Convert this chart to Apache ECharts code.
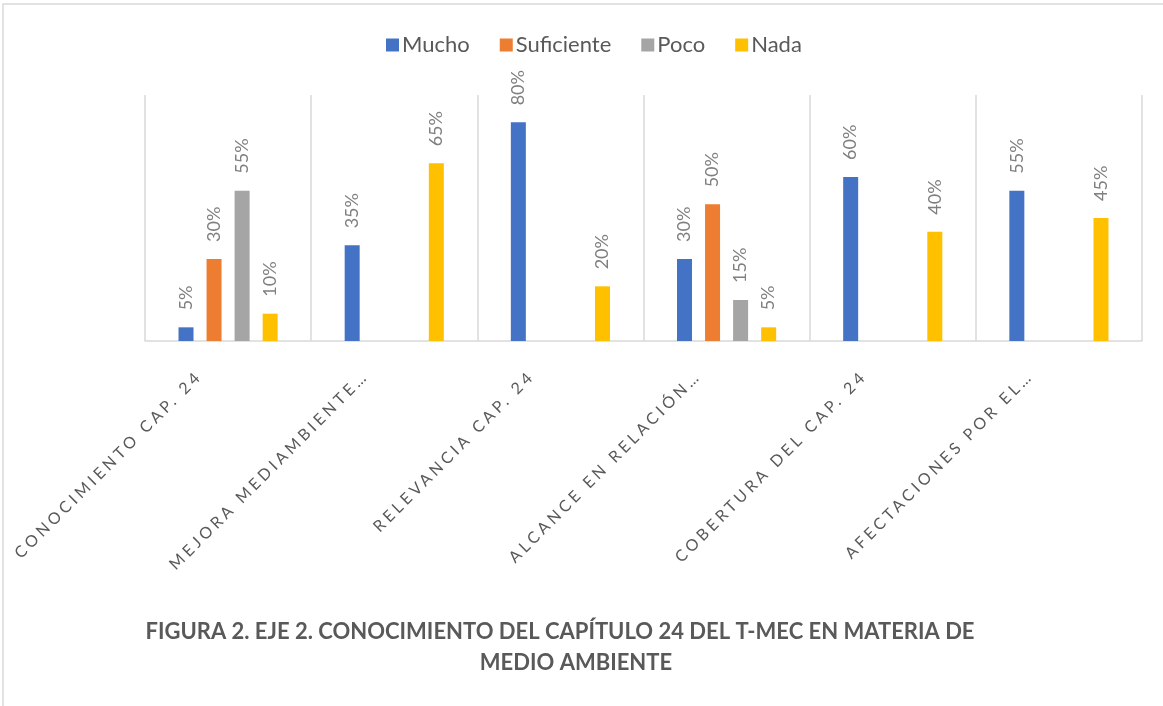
<!DOCTYPE html>
<html>
<head>
<meta charset="utf-8">
<script src="https://cdn.jsdelivr.net/npm/echarts@6/dist/echarts.min.js"></script>
<style>
  html, body { margin: 0; padding: 0; background: #fff; }
  #chart { width: 1163px; height: 706px; }
</style>
</head>
<body>
<div id="chart"></div>
<script>
// categories (shown in caps, as in the original axis)
let categories = ['CONOCIMIENTO CAP. 24', 'MEJORA MEDIAMBIENTE…', 'RELEVANCIA CAP. 24',
  'ALCANCE EN RELACIÓN…', 'COBERTURA DEL CAP. 24', 'AFECTACIONES POR EL…'];
// percent per answer, null where there is no bar
let mucho = [5, 35, 80, 30, 60, 55];
let suficiente = [30, null, null, 50, null, null];
let poco = [55, null, null, 15, null, null];
let nada = [10, 65, 20, 5, 40, 45];
let seriesNames = ['Mucho', 'Suficiente', 'Poco', 'Nada'];
let colors = ['#4472C4', '#ED7D31', '#A5A5A5', '#FFC000'];
let titleLines = ['FIGURA 2. EJE 2. CONOCIMIENTO DEL CAPÍTULO 24 DEL T-MEC EN MATERIA DE', 'MEDIO AMBIENTE'];

let font = 'Lato, "Open Sans", sans-serif';

// the axis labels in the original are spaced out; canvas can do that, echarts can't
const rawFillText = CanvasRenderingContext2D.prototype.fillText;
CanvasRenderingContext2D.prototype.fillText = function (text, x, y) {
  if (categories.indexOf(text) >= 0) {
    this.save();
    this.letterSpacing = '3.6px';
    rawFillText.call(this, text, x, y);
    this.restore();
    return;
  }
  return rawFillText.apply(this, arguments);
};

let chart = echarts.init(document.getElementById('chart'));

let makeSeries = (name, data, i) => ({
  name: name,
  type: 'bar',
  data: data,
  barWidth: 15,
  barGap: '87%',
  itemStyle: { color: colors[i] },
  label: {
    show: true,
    position: 'top',
    rotate: 90,
    align: 'left',
    verticalAlign: 'middle',
    distance: 17,
    formatter: '{c}%',
    fontFamily: font,
    fontSize: 18,
    color: '#7f7f7f'
  }
});

let option = {
  animation: false,
  color: colors,
  legend: {
    top: 29,
    left: 381,
    itemWidth: 13,
    itemHeight: 13,
    itemGap: 30,
    icon: 'rect',
    textStyle: { fontFamily: font, fontSize: 22, color: '#595959', padding: [0, 0, 0, -2] },
    data: seriesNames
  },
  grid: { left: 145, right: 21, top: 95, bottom: 365 },
  xAxis: {
    type: 'category',
    data: categories,
    axisLine: { lineStyle: { color: '#d9d9d9', width: 1.5 } },
    axisTick: { show: false },
    splitLine: { show: true, interval: 0, lineStyle: { color: '#d9d9d9', width: 1.5 } },
    axisLabel: {
      interval: 0,
      rotate: 45,
      margin: 4,
      padding: [0, 40, 0, 0],
      fontFamily: font,
      fontSize: 16,
      color: '#595959'
    }
  },
  yAxis: {
    type: 'value',
    min: 0,
    max: 90,
    show: false,
    splitLine: { show: false }
  },
  graphic: [
    { type: 'rect', shape: { x: 3, y: 4, width: 1300, height: 900 },
      style: { fill: 'none', stroke: '#d9d9d9', lineWidth: 1.5 }, silent: true },
    { type: 'text', x: 560, y: 632,
      style: { text: titleLines[0], fontFamily: font, fontWeight: 'bold', fontSize: 22,
        fill: '#595959', textAlign: 'center', textVerticalAlign: 'middle' } },
    { type: 'text', x: 576, y: 663,
      style: { text: titleLines[1], fontFamily: font, fontWeight: 'bold', fontSize: 22,
        fill: '#595959', textAlign: 'center', textVerticalAlign: 'middle' } }
  ],
  series: [
    makeSeries(seriesNames[0], mucho, 0),
    makeSeries(seriesNames[1], suficiente, 1),
    makeSeries(seriesNames[2], poco, 2),
    makeSeries(seriesNames[3], nada, 3)
  ]
};

chart.setOption(option);
</script>
</body>
</html>
